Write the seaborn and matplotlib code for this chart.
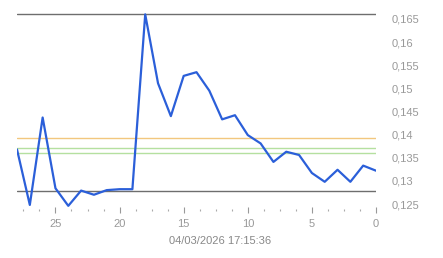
import matplotlib
matplotlib.use("Agg")
import matplotlib.pyplot as plt
import seaborn as sns
import pandas as pd
from matplotlib.ticker import FuncFormatter, MultipleLocator

# Data
days_ago = [28, 27, 26, 25, 24, 23, 22, 21, 20, 19, 18, 17, 16, 15, 14, 13, 12, 11,
            10, 9, 8, 7, 6, 5, 4, 3, 2, 1, 0]
price = [0.1368, 0.1248, 0.1437, 0.1284, 0.1246, 0.1279, 0.1270, 0.1280, 0.1282, 0.1282,
         0.1660, 0.1511, 0.1440, 0.1527, 0.1535, 0.1495, 0.1433, 0.1442,
         0.1399, 0.1381, 0.1341, 0.1363, 0.1356, 0.1317, 0.1298, 0.1324, 0.1298, 0.1333, 0.1322]
high_line = 0.1660
low_line = 0.12775
orange_line = 0.1393
green_lines = [0.1370, 0.1360]
y_ticks = [0.125, 0.13, 0.135, 0.14, 0.145, 0.15, 0.155, 0.16, 0.165]
x_ticks = [25, 20, 15, 10, 5, 0]
timestamp = "04/03/2026 17:15:36"

sns.set_theme(style="white")
plt.rcParams['font.family'] = ['Liberation Sans', 'DejaVu Sans']

fig = plt.figure(figsize=(4.43, 2.58), dpi=100)
W, H = 443, 258
ax = fig.add_axes([17 / W, 1 - 210 / H, (376 - 17) / W, 200 / H])

df = pd.DataFrame({"x": days_ago, "y": price})

ax.axhline(orange_line, color="#f2c77e", lw=1.0, zorder=1)
for g in green_lines:
    ax.axhline(g, color="#b5e0a0", lw=1.0, zorder=1)
ax.axhline(high_line, color="#6e6e6e", lw=1.0, zorder=1)
ax.axhline(low_line, color="#6e6e6e", lw=1.0, zorder=1)

sns.lineplot(data=df, x="x", y="y", ax=ax, color="#2b5fd9", lw=1.6, zorder=3)

ax.set_xlim(28, 0)
y0 = 0.165 + 9 / 4625
y1 = 0.165 - 191 / 4625
ax.set_ylim(y1, y0)

for s in ax.spines.values():
    s.set_visible(False)

ax.set_xlabel("")
ax.set_ylabel("")
ax.set_xticks(x_ticks)
ax.set_xticklabels([str(t) for t in x_ticks])
ax.xaxis.set_minor_locator(MultipleLocator(1.25))
ax.tick_params(axis="x", which="major", bottom=True, length=5, width=0.8,
               color="#999999", labelcolor="#999999", labelsize=8, pad=4, direction="inout")
ax.tick_params(axis="x", which="minor", bottom=True, length=2, width=0.8,
               color="#aaaaaa", direction="inout")

ax.yaxis.tick_right()
ax.set_yticks(y_ticks)
ax.yaxis.set_major_formatter(FuncFormatter(lambda v, p: f"{v:g}".replace(".", ",")))
ax.tick_params(axis="y", which="both", left=False, right=False, labelright=True,
               labelleft=False, labelcolor="#999999", labelsize=8, pad=5)

fig.text(220 / W, 1 - 241 / H, timestamp, ha="center", va="center",
         color="#888888", fontsize=8)

fig.savefig("out.png", dpi=100)
